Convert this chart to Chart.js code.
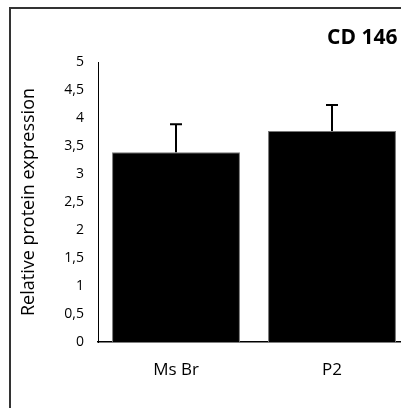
<!DOCTYPE html>
<html lang="en">
<head>
  <meta charset="UTF-8">
  <title>CD 146</title>
  <style>
    html, body { margin: 0; padding: 0; background: #fff; overflow: hidden; width: 401px; height: 408px; }
    .frame { position: absolute; left: 9px; top: 7px; width: 460px; height: 460px; border: 2px solid #333; }
    .title { position: absolute; left: 327px; top: 22px; font: bold 21px "Open Sans", sans-serif; color: #000; white-space: nowrap; }
    #chart { position: absolute; left: 0; top: 0; }
  </style>
</head>
<body>
  <div class="frame"></div>
  <canvas id="chart" width="440" height="420"></canvas>
  <div class="title">CD 146</div>

  <script src="https://cdn.jsdelivr.net/npm/chart.js"></script>
  <script>
    const labels = ['Ms Br', 'P2'];
    const values = [3.39, 3.77];
    const errors = [0.5, 0.46];

    // barres d'erreur (haut seulement) avec petit chapeau
    const errorBars = {
      id: 'errorBars',
      afterDatasetsDraw(chart) {
        const ctx = chart.ctx;
        const y = chart.scales.y;
        const meta = chart.getDatasetMeta(0);
        ctx.save();
        ctx.strokeStyle = '#000';
        ctx.lineWidth = 2;
        meta.data.forEach((bar, i) => {
          const top = y.getPixelForValue(values[i] + errors[i]);
          ctx.beginPath();
          ctx.moveTo(bar.x, bar.y);
          ctx.lineTo(bar.x, top);
          ctx.moveTo(bar.x - 6, top);
          ctx.lineTo(bar.x + 6, top);
          ctx.stroke();
        });
        ctx.restore();
      }
    };

    new Chart(document.getElementById('chart'), {
      type: 'bar',
      data: {
        labels: labels,
        datasets: [{
          data: values,
          backgroundColor: '#000',
          borderColor: '#777',
          borderWidth: 1,
          barPercentage: 0.82,
          categoryPercentage: 1
        }]
      },
      options: {
        responsive: false,
        animation: false,
        layout: { padding: { left: 13, top: 62, right: 30, bottom: 0 } },
        plugins: { legend: { display: false }, tooltip: { enabled: false } },
        scales: {
          x: {
            grid: { display: false, drawTicks: false },
            border: { display: true, color: '#000', width: 1.5 },
            ticks: { color: '#000', padding: 18, font: { family: 'Open Sans', size: 17 } },
            afterFit: s => { s.height = 78; }
          },
          y: {
            min: 0, max: 5,
            grid: { display: false, drawTicks: false },
            border: { display: true, color: '#000', width: 1 },
            ticks: {
              stepSize: 0.5, color: '#000', padding: 14,
              font: { family: 'Open Sans', size: 14 },
              callback: v => String(v).replace('.', ',')
            },
            title: {
              display: true, text: 'Relative protein expression', color: '#000',
              padding: { top: 5, bottom: 0 },
              font: { family: 'Open Sans', size: 18 }
            },
            afterFit: s => { s.width = 85; }
          }
        }
      },
      plugins: [errorBars]
    });
  </script>
</body>
</html>
